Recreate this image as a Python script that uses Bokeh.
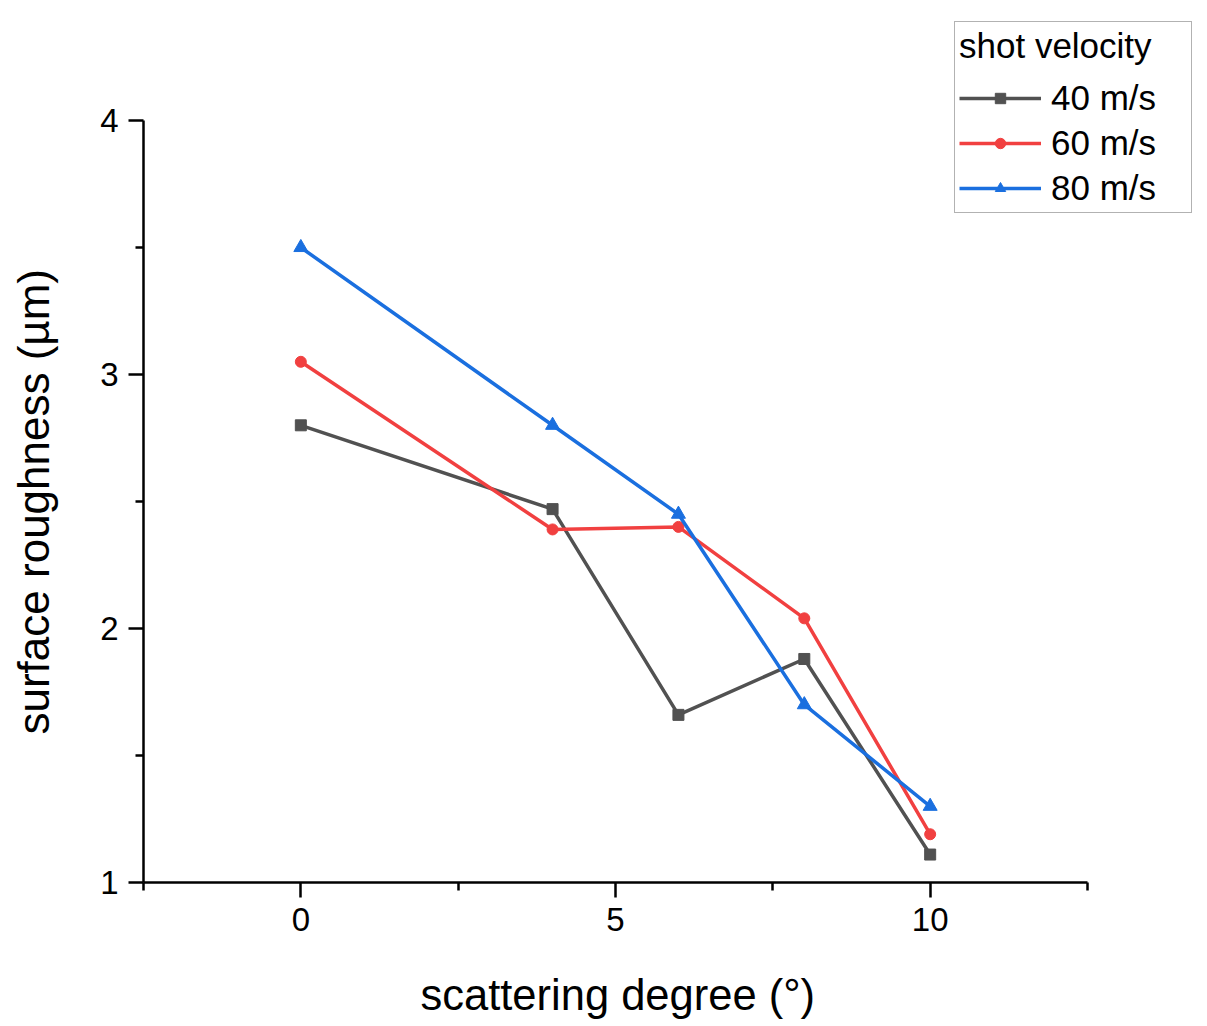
from bokeh.plotting import figure
from bokeh.models import Range1d, FixedTicker, Legend, LegendItem, Title
from bokeh.embed import file_html
from bokeh.resources import INLINE

scatter_deg = [0, 4, 6, 8, 10]
rough_40 = [2.80, 2.47, 1.66, 1.88, 1.11]
rough_60 = [3.05, 2.39, 2.40, 2.04, 1.19]
rough_80 = [3.50, 2.80, 2.45, 1.70, 1.30]
series_labels = ["40 m/s", "60 m/s", "80 m/s"]
legend_title = "shot velocity"
x_label = "scattering degree (°)"
y_label = "surface roughness (µm)"
x_ticks = [0, 5, 10]
x_minor = [-2.5, 2.5, 7.5, 12.5]
y_ticks = [1, 2, 3, 4]
y_minor = [1.5, 2.5, 3.5]

FONT = "Liberation Sans"

# axis spans (-2.5..12.5, 1..4); frame extended beyond so the legend is not clipped
x_px_per_unit = 944 / 15.0
y_px_per_unit = 762 / 3.0
x_end = -2.5 + 1057 / x_px_per_unit
y_end = 1 + 882 / y_px_per_unit

p = figure(width=1200, height=1024, output_backend="svg", toolbar_location=None,
           x_range=Range1d(-2.5, x_end), y_range=Range1d(1, y_end),
           min_border_left=143, min_border_right=0, min_border_top=0, min_border_bottom=142)
p.outline_line_color = None
p.xgrid.visible = False
p.ygrid.visible = False

p.xaxis.ticker = FixedTicker(ticks=x_ticks, minor_ticks=x_minor)
p.yaxis.ticker = FixedTicker(ticks=y_ticks, minor_ticks=y_minor)
p.xaxis.bounds = (-2.5, 12.5)
p.yaxis.bounds = (1, 4)
for ax in (p.xaxis, p.yaxis):
    ax.axis_line_width = 2.5
    ax.axis_line_color = "black"
    ax.major_tick_line_width = 2.5
    ax.minor_tick_line_width = 2.5
    ax.major_tick_line_color = "black"
    ax.minor_tick_line_color = "black"
    ax.major_tick_out = 15
    ax.major_tick_in = 0
    ax.minor_tick_out = 8
    ax.minor_tick_in = 0
    ax.major_label_text_font = FONT
    ax.major_label_text_font_size = "33px"
    ax.major_label_text_color = "black"
    # blank axis label used only as a spacer between tick labels and the title
    ax.axis_label = " "
    ax.axis_label_text_font_size = "1px"
p.xaxis.major_label_standoff = 10
p.yaxis.major_label_standoff = 10
p.xaxis.axis_label_standoff = 28
p.yaxis.axis_label_standoff = 33

xt = Title(text=x_label, align="left", offset=277, standoff=6,
           text_font=FONT, text_font_size="43.5px", text_font_style="normal", text_color="black")
p.add_layout(xt, "below")
yt = Title(text=y_label, align="left", offset=148, standoff=6,
           text_font=FONT, text_font_size="44px", text_font_style="normal", text_color="black")
p.add_layout(yt, "left")

colors = ["#515151", "#F14040", "#1A6FDF"]
items = []
for ys, col, lab, mk, sz in zip([rough_40, rough_60, rough_80], colors, series_labels,
                                ["square", "circle", "triangle"], [11, 11, 14]):
    l = p.line(scatter_deg, ys, line_color=col, line_width=3.5)
    s = p.scatter(scatter_deg, ys, marker=mk, size=sz, fill_color=col, line_color=col)
    items.append(LegendItem(label=lab, renderers=[l, s]))

legend = Legend(items=items, location=(811, 669), title=legend_title,
                title_text_font=FONT, title_text_font_size="35px", title_text_font_style="normal",
                title_text_color="black",
                label_text_font=FONT, label_text_font_size="35px", label_text_color="black",
                border_line_color="#666666", border_line_width=1.5,
                glyph_width=82, glyph_height=26, label_standoff=10, spacing=5, label_width=136,
                padding=4, margin=0, title_standoff=12, background_fill_color="white")
p.add_layout(legend, "center")

open("out.html", "w").write(file_html(p, INLINE))
